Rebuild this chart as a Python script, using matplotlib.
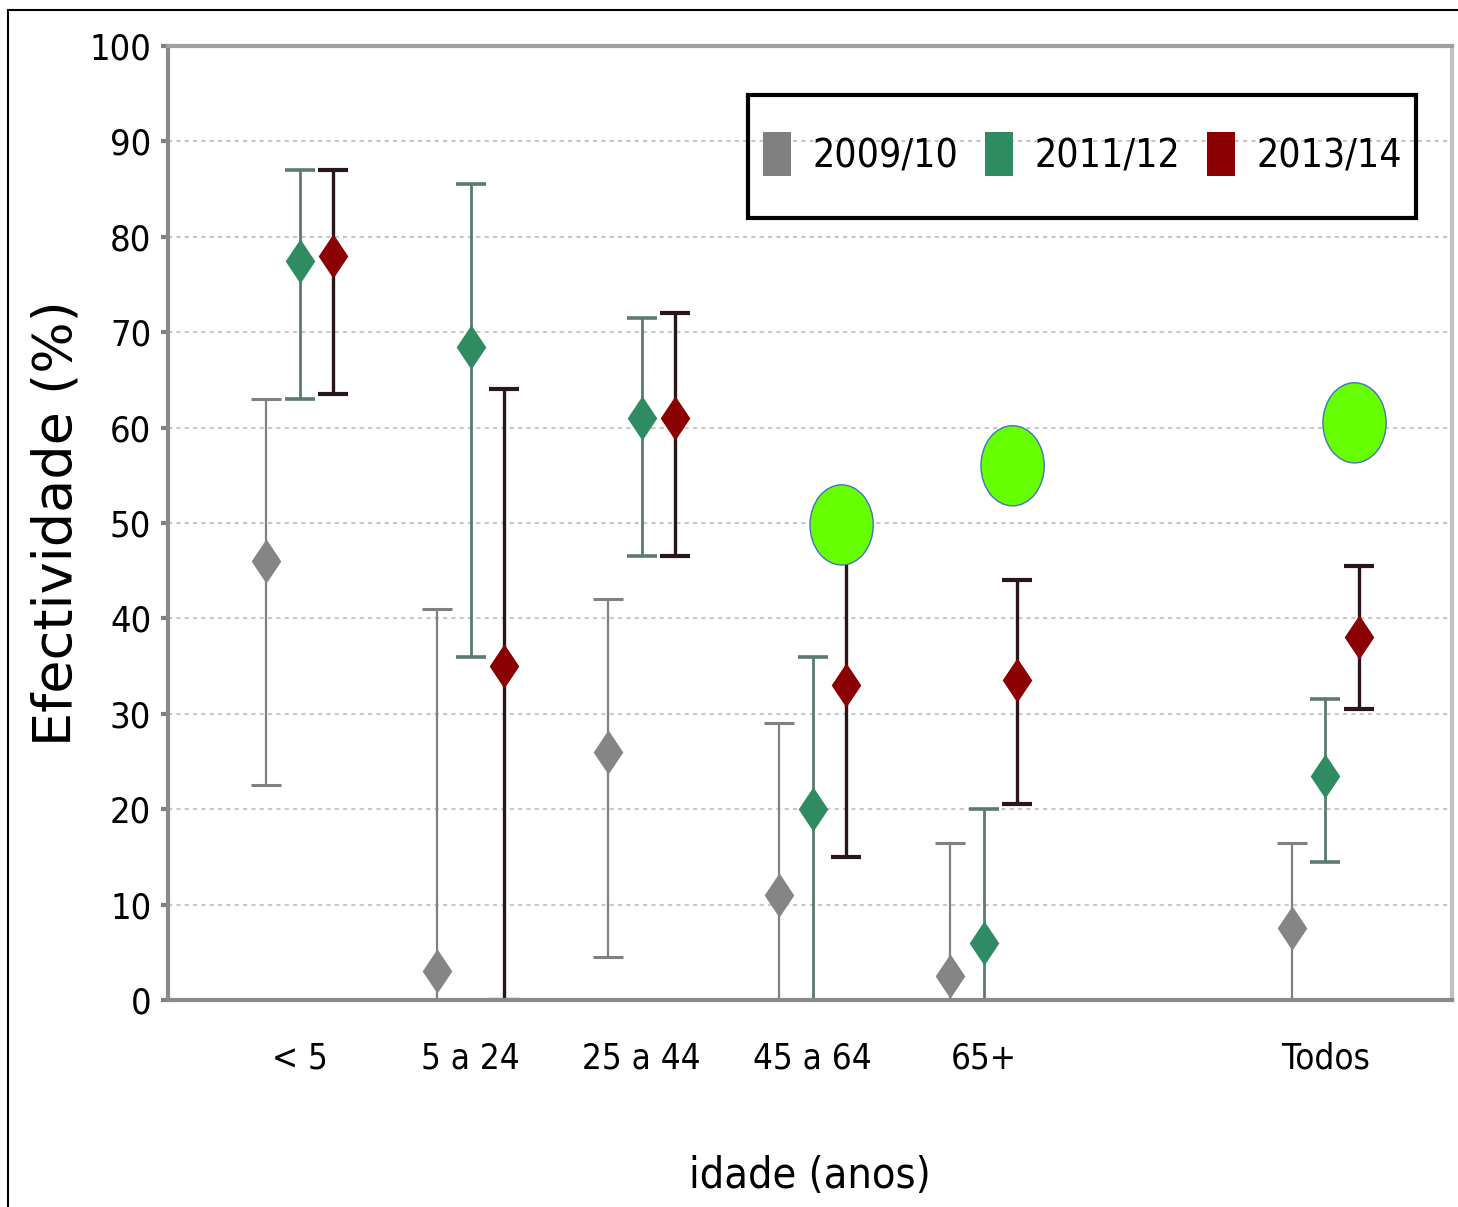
import matplotlib
matplotlib.use("Agg")
import matplotlib.pyplot as plt
from matplotlib.patches import Ellipse, Rectangle
from matplotlib.lines import Line2D
import numpy as np

groups = ['< 5', '5 a 24', '25 a 44', '45 a 64', '65+', 'Todos']
group_pos = [0, 1, 2, 3, 4, 6]
seasons = ['2009/10', '2011/12', '2013/14']

ve_0910 = [46, 3, 26, 11, 2.5, 7.5]
lo_0910 = [22.5, 0, 4.5, 0, 0, 0]
hi_0910 = [63, 41, 42, 29, 16.5, 16.5]

ve_1112 = [77.5, 68.5, 61, 20, 6, 23.5]
lo_1112 = [63, 36, 46.5, 0, 0, 14.5]
hi_1112 = [87, 85.5, 71.5, 36, 20, 31.5]

ve_1314 = [78, 35, 61, 33, 33.5, 38]
lo_1314 = [63.5, 0, 46.5, 15, 20.5, 30.5]
hi_1314 = [87, 64, 72, 50, 44, 45.5]

# highlighted groups (green circles)
circle_groups = ['45 a 64', '65+', 'Todos']
circle_y = [49.8, 56, 60.5]

cond = dict(family='DejaVu Sans', stretch='condensed')

fig = plt.figure(figsize=(14.58, 12.07), dpi=100)
ax = fig.add_axes([168/1458, 1 - 1000/1207, (1452-168)/1458, (1000-46)/1207])

series = [
    (ve_0910, lo_0910, hi_0910, '#858585', '#808080', -0.195, 1.6),
    (ve_1112, lo_1112, hi_1112, '#2e8b62', '#5a7a72', 0.0, 2.0),
    (ve_1314, lo_1314, hi_1314, '#8b0000', '#2a1618', 0.195, 2.4),
]
diamond = [(0, -1.5), (1, 0), (0, 1.5), (-1, 0), (0, -1.5)]

x0 = np.array(group_pos, dtype=float)
for ve, lo, hi, mc, ec, dx, lw in series:
    ve = np.array(ve); lo = np.array(lo); hi = np.array(hi)
    x = x0 + dx
    ax.errorbar(x, ve, yerr=[ve - lo, hi - ve], fmt='none', ecolor=ec,
                elinewidth=lw, capsize=11, capthick=lw + 0.6, zorder=3)
    ax.plot(x, ve, linestyle='none', marker=diamond, markersize=32,
            color=mc, markeredgewidth=0, zorder=5)

for g, cy in zip(circle_groups, circle_y):
    cx = group_pos[groups.index(g)] + 0.17
    ax.add_patch(Ellipse((cx, cy), 0.37, 8.4, facecolor='#66ff00',
                         edgecolor='#4472c4', linewidth=1, zorder=6))

ax.set_xlim(-0.77, 6.74)
ax.set_ylim(0, 100)
ax.set_yticks(np.arange(0, 101, 10))
ax.set_xticks(group_pos)
ax.set_xticklabels(groups, fontsize=25, **cond)
for lab in ax.get_yticklabels():
    lab.set_family('DejaVu Sans')
    lab.set_stretch('condensed')
    lab.set_fontsize(26)
ax.tick_params(axis='x', length=0, pad=30)
ax.tick_params(axis='y', length=5, width=3, color='#808080', pad=7)
ax.yaxis.grid(True, linestyle=(0, (2, 2)), color='#c8c8c8', linewidth=1.5)
ax.set_axisbelow(True)

for side in ['left', 'bottom', 'top']:
    ax.spines[side].set_color('#8a8a8a')
    ax.spines[side].set_linewidth(3)
    ax.spines[side].set_zorder(4)
ax.spines['top'].set_color('#a0a0a0')
ax.spines['right'].set_color('#c0c0c0')
ax.spines['right'].set_linewidth(3)

ax.set_xlabel('idade (anos)', fontsize=31, labelpad=57, **cond)
ax.set_ylabel('Efectividade (%)', fontsize=39, labelpad=5)

rect = [(-0.67, -1), (0.67, -1), (0.67, 1), (-0.67, 1), (-0.67, -1)]
handles = [Line2D([], [], linestyle='none', marker=rect, markersize=31,
                  color=c, markeredgewidth=0) for c in ['#808080', '#2e8b62', '#8b0000']]
leg = fig.legend(handles, seasons, ncol=3, loc='center',
                 bbox_to_anchor=((748 + 1416) / 2 / 1458, 1 - (95 + 218) / 2 / 1207),
                 prop=dict(size=28, **cond), frameon=False,
                 handletextpad=0.55, columnspacing=0.65, handlelength=0.76,
                 borderpad=0)

fig.patches.append(Rectangle((748/1458, 1 - 218/1207), (1416-748)/1458, 123/1207,
                             transform=fig.transFigure, fill=False,
                             edgecolor='black', linewidth=3))
fig.patches.append(Rectangle((7.5/1458, -0.1), 1.2, 1.1 - 10/1207,
                             transform=fig.transFigure, fill=False,
                             edgecolor='black', linewidth=1.5))

fig.savefig('out.png', dpi=100)
